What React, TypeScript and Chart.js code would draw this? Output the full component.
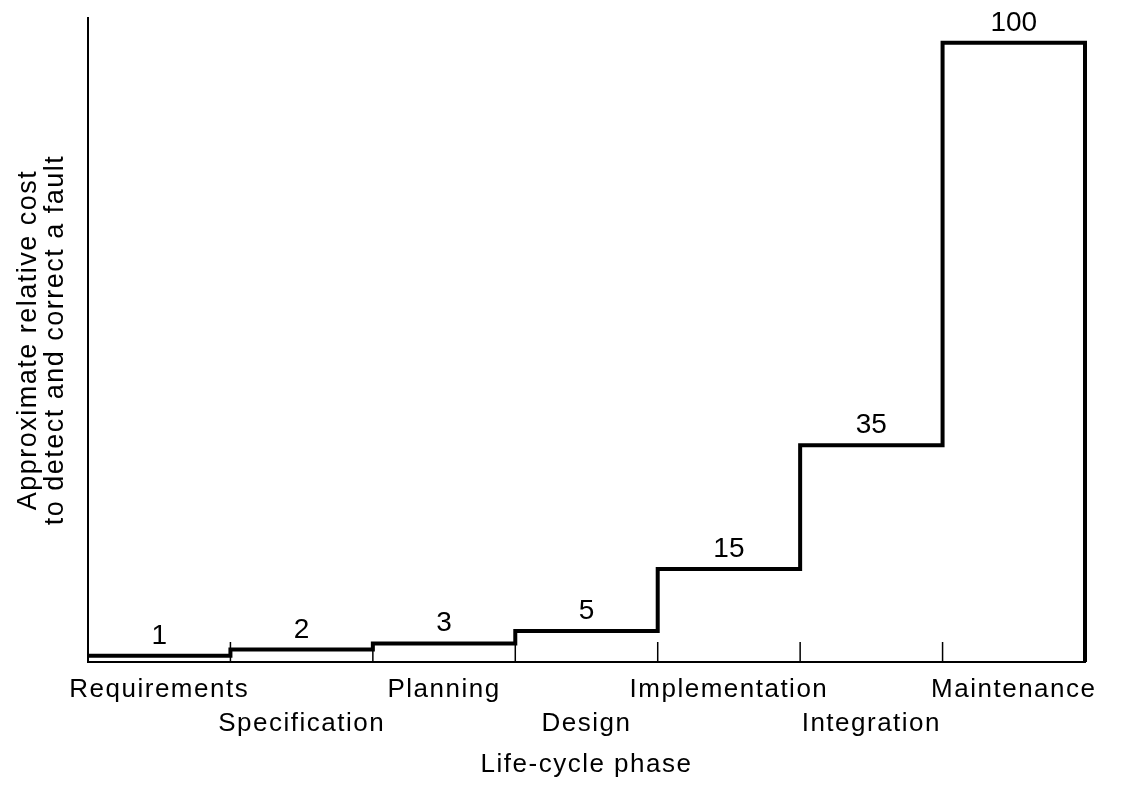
import React, { useEffect, useRef } from 'react';
import { Chart, registerables } from 'chart.js';

Chart.register(...registerables);

const phases = ['Requirements', 'Specification', 'Planning', 'Design', 'Implementation', 'Integration', 'Maintenance'];
const relativeCost = [1, 2, 3, 5, 15, 35, 100];
const yAxisTitle = ['Approximate relative cost', 'to detect and correct a fault'];
const xAxisTitle = 'Life-cycle phase';
const yMax = 104;

const FONT = "'Liberation Sans', Arial, Helvetica, sans-serif";

export default function App() {
  const ref = useRef<HTMLCanvasElement>(null);

  useEffect(() => {
    if (!ref.current) return;
    const stepData = relativeCost.map((v, i) => ({ x: i, y: v }));
    stepData.push({ x: phases.length, y: relativeCost[relativeCost.length - 1] });
    stepData.push({ x: phases.length, y: 0 });

    const setSpacing = (chart: any) => {
      (chart.ctx as any).letterSpacing = '1.5px';
    };
    const spacingPlugin = {
      id: 'spacing',
      beforeUpdate: setSpacing,
      beforeLayout: setSpacing,
      beforeDraw: setSpacing,
    };

    const annotPlugin = {
      id: 'annot',
      afterDatasetsDraw(chart: any) {
        const { ctx, scales } = chart;
        const x = scales.x;
        const y = scales.y;
        ctx.save();
        ctx.strokeStyle = '#000';
        ctx.lineWidth = 1.5;
        const base = y.getPixelForValue(0);
        for (let i = 1; i < phases.length; i++) {
          const px = x.getPixelForValue(i);
          ctx.beginPath();
          ctx.moveTo(px, base);
          ctx.lineTo(px, base - 20);
          ctx.stroke();
        }
        (ctx as any).letterSpacing = '0px';
        ctx.font = `28px ${FONT}`;
        ctx.fillStyle = '#000';
        ctx.textAlign = 'center';
        ctx.textBaseline = 'alphabetic';
        relativeCost.forEach((v, i) => {
          ctx.fillText(String(v), x.getPixelForValue(i + 0.5), y.getPixelForValue(v) - 12);
        });
        ctx.restore();
      },
    };

    const chart = new Chart(ref.current, {
      type: 'line',
      data: {
        datasets: [
          {
            data: stepData,
            stepped: 'before',
            borderColor: '#000',
            borderWidth: 4,
            borderJoinStyle: 'miter',
            borderCapStyle: 'butt',
            pointRadius: 0,
            fill: false,
            clip: 8,
          } as any,
        ],
      },
      options: {
        animation: false,
        responsive: true,
        maintainAspectRatio: false,
        layout: { padding: { top: 10, right: 45, left: 0, bottom: 0 } },
        plugins: {
          legend: { display: false },
          tooltip: { enabled: false },
        },
        scales: {
          x: {
            type: 'linear',
            min: 0,
            max: phases.length,
            afterBuildTicks: (scale: any) => {
              scale.ticks = phases.map((_, i) => ({ value: i + 0.5 }));
            },
            afterFit: (scale: any) => {
              scale.height = 115;
            },
            grid: { display: false, drawTicks: false },
            border: { display: true, color: '#000', width: 2 },
            ticks: {
              autoSkip: false,
              maxRotation: 0,
              minRotation: 0,
              padding: 10.5,
              color: '#000',
              font: { family: FONT, size: 26, lineHeight: 34 / 26 },
              callback: (_v: any, i: number) => (i % 2 === 0 ? phases[i] : ['', phases[i]]),
            },
            title: {
              display: true,
              text: xAxisTitle,
              color: '#000',
              font: { family: FONT, size: 26, lineHeight: 1 },
              padding: { top: 0, bottom: -1 },
            },
          },
          y: {
            type: 'linear',
            min: 0,
            max: yMax,
            afterFit: (scale: any) => {
              scale.width = 80;
            },
            grid: { display: false, drawTicks: false },
            border: { display: true, color: '#000', width: 2 },
            ticks: { display: false },
            title: {
              display: true,
              text: yAxisTitle,
              color: '#000',
              font: { family: FONT, size: 27, lineHeight: 27 / 27 },
              padding: { top: 7, bottom: 0 },
            },
          },
        },
      },
      plugins: [spacingPlugin, annotPlugin],
    } as any);

    return () => chart.destroy();
  }, []);

  return (
    <div style={{ position: 'relative', width: 1122, height: 769 }}>
      <canvas ref={ref} />
    </div>
  );
}
